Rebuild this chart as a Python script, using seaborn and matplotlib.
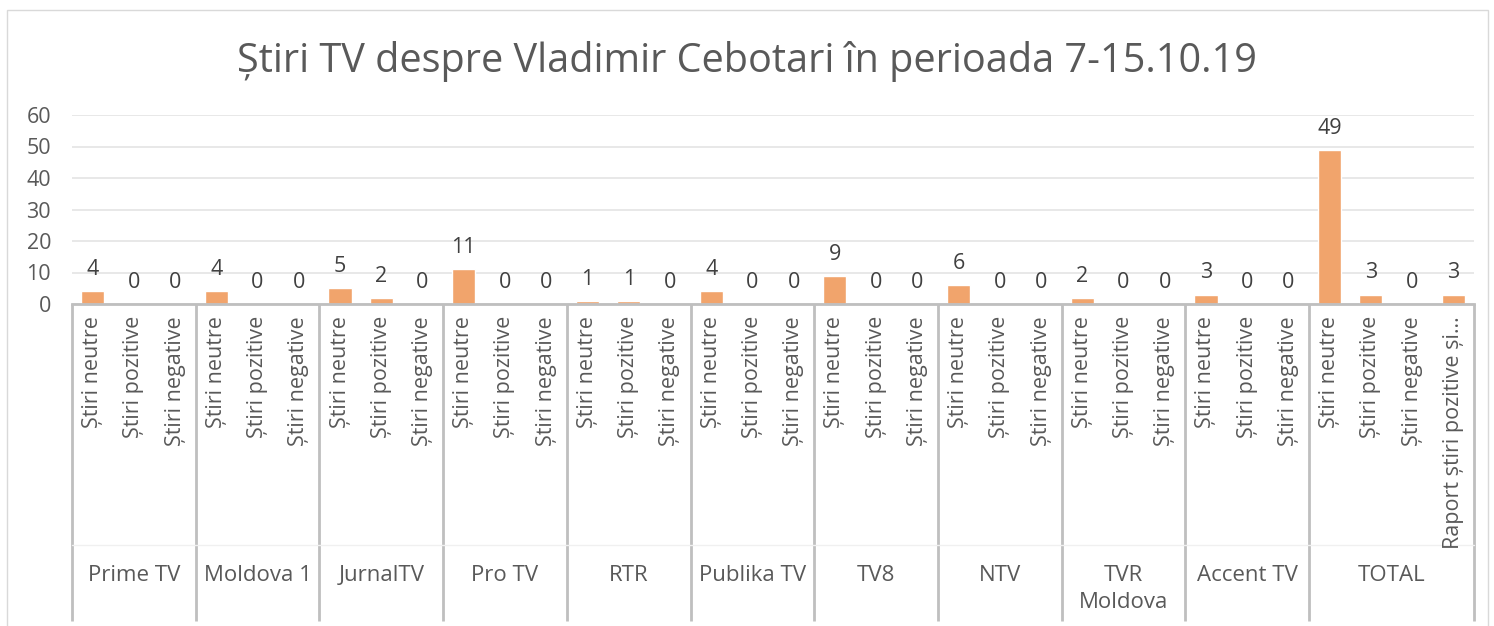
import matplotlib as mpl
mpl.use('Agg')
import matplotlib.pyplot as plt
import matplotlib.transforms as mtransforms
import numpy as np
import pandas as pd
import seaborn as sns

# data
channels = ['Prime TV', 'Moldova 1', 'JurnalTV', 'Pro TV', 'RTR', 'Publika TV',
            'TV8', 'NTV', 'TVR\nMoldova', 'Accent TV', 'TOTAL']
sub_std = ['Știri neutre', 'Știri pozitive', 'Știri negative']
sub_total = ['Știri neutre', 'Știri pozitive', 'Știri negative', 'Raport știri pozitive și…']
neutre = [4, 4, 5, 11, 1, 4, 9, 6, 2, 3, 49]
pozitive = [0, 0, 2, 0, 1, 0, 0, 0, 0, 0, 3]
negative = [0, 0, 0, 0, 0, 0, 0, 0, 0, 0, 0]
raport_total = 3

BAR = '#F1A46C'
GREY = '#595959'
LINE = '#BFBFBF'

sns.set_theme(style='white')
plt.rcParams['font.family'] = ['Open Sans', 'DejaVu Sans']

rows = []
for i, ch in enumerate(channels):
    subs = sub_total if ch == 'TOTAL' else sub_std
    vals = [neutre[i], pozitive[i], negative[i]]
    if ch == 'TOTAL':
        vals.append(raport_total)
    for s, v in zip(subs, vals):
        rows.append({'channel': ch, 'sub': s, 'key': f'{ch}|{s}', 'value': v})
df = pd.DataFrame(rows)

fig = plt.figure(figsize=(14.94, 6.26), dpi=100)
W, H = 1494, 626
ax = fig.add_axes([72 / W, 1 - 304 / H, (1474 - 72) / W, (304 - 115) / H])

sns.barplot(data=df, x='key', y='value', order=list(df['key']), color=BAR,
            width=0.56, saturation=1, ax=ax)
ax.set_xlim(-0.5, len(df) - 0.5)
ax.set_ylim(0, 60)
ax.set_yticks(range(0, 61, 10))
ax.tick_params(axis='y', length=0, pad=15, labelsize=15.5, labelcolor=GREY)
ax.set_xticks([])
ax.set_xlabel('')
ax.set_ylabel('')
ax.grid(axis='y', color='#E6E6E6', linewidth=1.3)
ax.set_axisbelow(True)
for s in ['top', 'right', 'left']:
    ax.spines[s].set_visible(False)
ax.spines['bottom'].set_color(LINE)
ax.spines['bottom'].set_linewidth(2)

for c in ax.containers:
    ax.bar_label(c, padding=8, fontsize=15.5, color='#404040')

# multi-level category axis
trans = mtransforms.blended_transform_factory(ax.transData, fig.transFigure)
y_sub = 1 - 316 / H
y_grp = 1 - 565 / H
y_mid = 1 - 545 / H
y_end = 1 - 621 / H
y_ax = 1 - 304 / H

for idx, s in enumerate(df['sub']):
    ax.text(idx, y_sub, s, transform=trans, rotation=90, ha='center', va='top',
            fontsize=15.5, color=GREY)

start = 0
bounds = [-0.5]
for ch in channels:
    n = (df['channel'] == ch).sum()
    ax.text(start + (n - 1) / 2, y_grp, ch, transform=trans, ha='center', va='top',
            fontsize=16, color=GREY, linespacing=1.35)
    start += n
    bounds.append(start - 0.5)

for b in bounds:
    ax.plot([b, b], [y_ax, y_end], transform=trans, color=LINE, lw=2,
            clip_on=False, solid_capstyle='butt')
ax.plot([-0.5, len(df) - 0.5], [y_mid, y_mid], transform=trans, color='#F0F0F0',
        lw=1, clip_on=False)

fig.text(0.5, 1 - 61 / H, 'Știri TV despre Vladimir Cebotari în perioada 7-15.10.19',
         ha='center', va='center', fontsize=28.5, color=GREY)

# chart border
fig.patches.append(mpl.patches.Rectangle((7 / W, -0.01), (1488 - 7) / W, 1 - 10 / H + 0.01,
                                         transform=fig.transFigure, fill=False,
                                         edgecolor='#D9D9D9', lw=1))

fig.savefig('out.png', dpi=100)
